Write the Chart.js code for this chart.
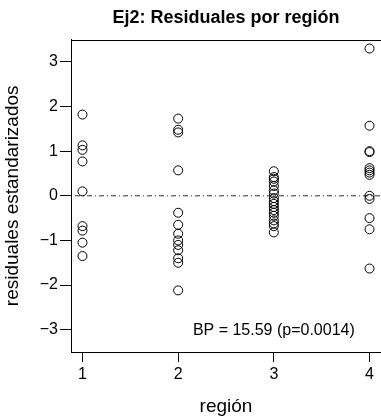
<!DOCTYPE html>
<html>
<head>
<meta charset="utf-8">
<script src="https://cdn.jsdelivr.net/npm/chart.js@4"></script>
<style>
  html, body { margin: 0; padding: 0; background: #fff; }
  canvas { display: block; }
</style>
</head>
<body>
<canvas id="resid" width="381" height="419"></canvas>
<script>
// regions on the x axis and the standardized residuals
const regions = [1, 2, 3, 4];
const res1 = [1.82, 1.13, 1.03, 0.77, 0.10, -0.68, -0.78, -1.05, -1.35];
const res2 = [1.73, 1.48, 1.42, 0.57, -0.38, -0.65, -0.85, -1.0, -1.1, -1.22, -1.4, -1.5, -2.12];
const res3 = [0.55, 0.42, 0.38, 0.32, 0.22, 0.12, 0.05, -0.05, -0.12, -0.18, -0.25, -0.32, -0.38, -0.45, -0.55, -0.62, -0.68, -0.82];
const res4 = [3.3, 1.57, 1.0, 0.98, 0.62, 0.57, 0.52, 0.47, 0.0, -0.07, -0.5, -0.75, -1.63];
const yTicks = [-3, -2, -1, 0, 1, 2, 3];
const refY = 0;
const bpText = 'BP = 15.59 (p=0.0014)';

const groups = [res1, res2, res3, res4];
const points = [];
groups.forEach((g, i) => g.forEach(v => points.push({ x: regions[i], y: v })));

const xMin = 0.88, xMax = 4.12;

const FONT = 'Liberation Sans, Arial, Helvetica, sans-serif';

// box around the plot region + BP annotation
const boxPlugin = {
  id: 'box',
  afterDraw(chart) {
    const { ctx, chartArea: a, scales } = chart;
    ctx.save();
    ctx.strokeStyle = '#000';
    ctx.lineWidth = 1;
    ctx.strokeRect(Math.round(a.left) + 0.5, Math.round(a.top) + 0.5,
      Math.round(a.right - a.left), Math.round(a.bottom - a.top));
    ctx.fillStyle = '#000';
    ctx.font = '16px ' + FONT;
    ctx.textAlign = 'center';
    ctx.textBaseline = 'middle';
    ctx.fillText(bpText, scales.x.getPixelForValue(3), scales.y.getPixelForValue(-3.03));
    ctx.restore();
  }
};

new Chart(document.getElementById('resid'), {
  type: 'scatter',
  data: {
    datasets: [{
      data: points,
      pointStyle: 'circle',
      pointRadius: 4.5,
      pointHoverRadius: 4.5,
      pointBorderWidth: 1,
      borderColor: '#000',
      backgroundColor: 'rgba(0,0,0,0)',
      order: 1
    }, {
      type: 'line',
      data: [{ x: xMin, y: refY }, { x: xMax, y: refY }],
      borderColor: '#333',
      borderWidth: 1,
      borderDash: [1, 3, 5, 3],   // dot-dash like R lty=4
      pointRadius: 0,
      order: 2
    }]
  },
  options: {
    responsive: false,
    animation: false,
    devicePixelRatio: 1,
    layout: { autoPadding: false, padding: 0 },
    plugins: {
      legend: { display: false },
      tooltip: { enabled: false },
      title: {
        display: true,
        fullSize: false,            // center over the plot region, like R
        text: 'Ej2: Residuales por región',
        color: '#000',
        font: { family: FONT, size: 18, weight: 'bold' },
        padding: { top: 7, bottom: 11 },
        align: 'center'
      }
    },
    scales: {
      x: {
        type: 'linear',
        min: xMin,
        max: xMax,
        afterBuildTicks: s => { s.ticks = regions.map(v => ({ value: v })); },
        afterFit: s => { s.height = 67; },
        grid: { drawOnChartArea: false, color: '#000', tickLength: 10 },
        border: { display: true, color: '#000' },
        ticks: { color: '#000', font: { family: FONT, size: 16 }, padding: 3, autoSkip: false, maxRotation: 0 },
        title: { display: true, text: 'región', color: '#000', font: { family: FONT, size: 19 }, padding: { top: 0, bottom: 1 } }
      },
      y: {
        type: 'linear',
        min: -3.5,
        max: 3.5,
        afterBuildTicks: s => { s.ticks = yTicks.map(v => ({ value: v })); },
        afterFit: s => { s.width = 71; },
        grid: { drawOnChartArea: false, color: '#000', tickLength: 11 },
        border: { display: true, color: '#000' },
        ticks: {
          color: '#000', font: { family: FONT, size: 16 }, padding: 2,
          callback: v => String(v).replace('-', '\u2212')
        },
        title: { display: true, text: 'residuales estandarizados', color: '#000', font: { family: FONT, size: 19 }, padding: { top: 1, bottom: 0 } }
      }
    }
  },
  plugins: [boxPlugin]
});
</script>
</body>
</html>
